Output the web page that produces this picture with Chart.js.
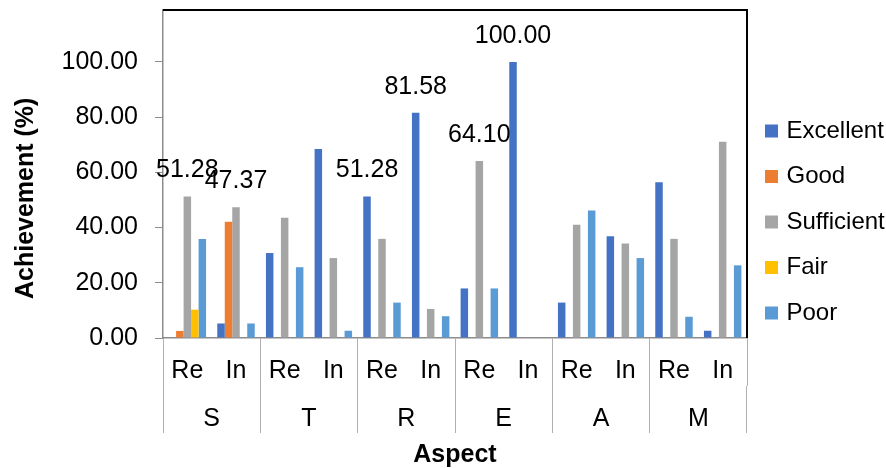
<!DOCTYPE html>
<html>
<head>
<meta charset="utf-8">
<script src="https://cdn.jsdelivr.net/npm/chart.js@4.4.1/dist/chart.umd.min.js"></script>
<style>
  html, body { margin: 0; padding: 0; background: #ffffff; }
  #wrap { width: 886px; height: 468px; }
</style>
</head>
<body>
<div id="wrap"><canvas id="c" width="886" height="468"></canvas></div>
<script>
// ---- data ----
const groups = ['S', 'T', 'R', 'E', 'A', 'M'];
const levels = ['Re', 'In'];
const seriesNames = ['Excellent', 'Good', 'Sufficient', 'Fair', 'Poor'];
const seriesColors = ['#4472C4', '#ED7D31', '#A5A5A5', '#FFC000', '#5B9BD5'];
const excellent  = [0.00, 5.26, 30.77, 68.42, 51.28, 81.58, 17.95, 100.00, 12.82, 36.84, 56.41, 2.63];
const good       = [2.56, 42.11, 0, 0, 0, 0, 0, 0, 0, 0, 0, 0];
const sufficient = [51.28, 47.37, 43.59, 28.95, 35.90, 10.53, 64.10, 0, 41.03, 34.21, 35.90, 71.05];
const fair       = [10.26, 0, 0, 0, 0, 0, 0, 0, 0, 0, 0, 0];
const poor       = [35.90, 5.26, 25.64, 2.63, 12.82, 7.89, 17.95, 0, 46.15, 28.95, 7.69, 26.32];
const yTicks     = [0, 20, 40, 60, 80, 100];
// bars carrying a value label: [series index, category index]
const labelledBars = [[2, 0], [2, 1], [0, 4], [0, 5], [2, 6], [0, 7]];

const categories = [];
groups.forEach(() => levels.forEach(l => categories.push(l)));
const allSeries = [excellent, good, sufficient, fair, poor];

const FONT = "'Liberation Sans', Arial, sans-serif";
const AXIS_GRAY = '#8c8c8c';

const valueLabels = {
  id: 'valueLabels',
  afterDatasetsDraw(chart) {
    const ctx = chart.ctx;
    ctx.save();
    ctx.font = '25px ' + FONT;
    ctx.fillStyle = '#000';
    ctx.textAlign = 'center';
    ctx.textBaseline = 'middle';
    labelledBars.forEach(([s, i]) => {
      const bar = chart.getDatasetMeta(s).data[i];
      const v = chart.data.datasets[s].data[i];
      ctx.fillText(v.toFixed(2), bar.x, bar.y - 26);
    });
    ctx.restore();
  }
};

const plotFrame = {
  id: 'plotFrame',
  afterDraw(chart) {
    const a = chart.chartArea, ctx = chart.ctx;
    ctx.save();
    ctx.strokeStyle = '#000';
    ctx.lineWidth = 2;
    ctx.beginPath();
    ctx.moveTo(a.left, a.top);
    ctx.lineTo(a.right, a.top);
    ctx.lineTo(a.right, a.bottom);
    ctx.stroke();
    ctx.restore();
  }
};

new Chart(document.getElementById('c'), {
  type: 'bar',
  data: {
    labels: categories,
    datasets: seriesNames.map((n, k) => ({
      label: n,
      data: allSeries[k],
      backgroundColor: seriesColors[k],
      borderWidth: 0,
      categoryPercentage: 0.77,
      barPercentage: 1.0
    }))
  },
  plugins: [valueLabels, plotFrame],
  options: {
    responsive: false,
    animation: false,
    devicePixelRatio: 1,
    layout: { padding: { top: 10, right: 0, bottom: 0, left: 0 } },
    plugins: {
      tooltip: { enabled: false },
      legend: {
        position: 'right',
        align: 'start',
        maxWidth: 139,
        title: { display: true, text: '', font: { size: 10 }, padding: { top: 75.5, bottom: 0 } },
        labels: {
          usePointStyle: true,
          pointStyle: 'rect',
          boxWidth: 6,
          boxHeight: 13,
          padding: 21.5,
          color: '#000',
          font: { family: FONT, size: 24 }
        }
      }
    },
    scales: {
      x: {
        type: 'category',
        position: 'bottom',
        weight: 0,
        afterFit(s) { s.height = 48; },
        border: { display: true, color: AXIS_GRAY, width: 1.5 },
        grid: {
          display: true,
          offset: true,
          drawOnChartArea: false,
          drawTicks: true,
          tickLength: 48,
          color: c => (c.index === undefined || c.index % 2 === 0) ? '#b0b0b0' : 'rgba(0,0,0,0)'
        },
        ticks: {
          color: '#000',
          font: { family: FONT, size: 25 },
          padding: -29.7,
          maxRotation: 0,
          autoSkip: false
        }
      },
      x2: {
        type: 'category',
        position: 'bottom',
        weight: 1,
        labels: groups,
        offset: true,
        afterFit(s) { s.height = 82; },
        border: { display: false },
        grid: {
          display: true,
          offset: true,
          drawOnChartArea: false,
          drawTicks: true,
          tickLength: 47,
          color: '#b0b0b0'
        },
        ticks: {
          color: '#000',
          font: { family: FONT, size: 25 },
          padding: -29.2,
          maxRotation: 0,
          autoSkip: false
        },
        title: {
          display: true,
          text: 'Aspect',
          color: '#000',
          font: { family: FONT, size: 25, weight: 'bold' },
          padding: { top: 0, bottom: -2.3 }
        }
      },
      y: {
        min: 0,
        max: 118.8,
        afterFit(s) { s.width = 163; s.paddingTop = 0; s.paddingBottom = 0; },
        afterBuildTicks(s) { s.ticks = yTicks.map(v => ({ value: v })); },
        border: { display: true, color: AXIS_GRAY, width: 1.5 },
        grid: {
          display: true,
          drawOnChartArea: false,
          drawTicks: true,
          tickLength: 8,
          color: AXIS_GRAY
        },
        ticks: {
          color: '#000',
          font: { family: FONT, size: 25 },
          padding: 17,
          callback: v => Number(v).toFixed(2)
        },
        title: {
          display: true,
          text: 'Achievement (%)       ',
          color: '#000',
          font: { family: FONT, size: 25, weight: 'bold' },
          padding: { top: 11.3, bottom: 0 }
        }
      }
    }
  }
});
</script>
</body>
</html>
